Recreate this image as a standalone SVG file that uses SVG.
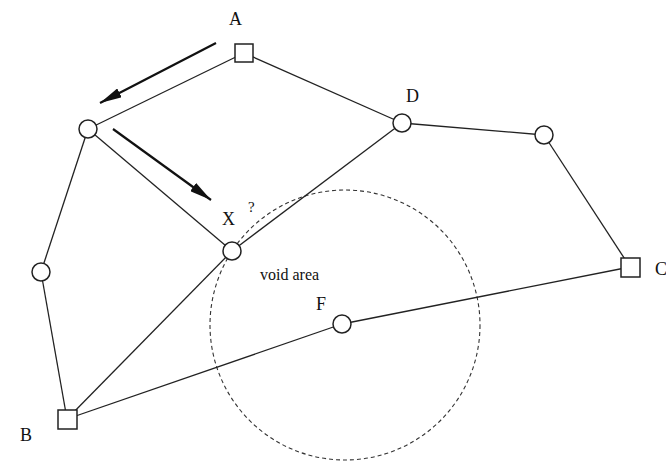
<svg xmlns="http://www.w3.org/2000/svg" width="666" height="461" viewBox="0 0 666 461">
<defs>
<style>
.e{stroke:#222;stroke-width:1.3;fill:none}
.n{fill:#fff;stroke:#222;stroke-width:1.5}
.t{font-family:"Liberation Serif",serif;font-size:18px;fill:#111}
.s{font-family:"Liberation Serif",serif;font-size:16px;fill:#111}
.q{font-family:"Liberation Serif",serif;font-size:15px;fill:#111}
.ar{stroke:#111;stroke-width:2.2;fill:none}
</style>
<marker id="ah2" viewBox="0 0 10 10" refX="10" refY="5" markerWidth="22" markerHeight="10" markerUnits="userSpaceOnUse" orient="auto" preserveAspectRatio="none">
<path d="M0,0 L10,5 L0,10 z" fill="#111"/>
</marker>
</defs>
<rect width="666" height="461" fill="#fff"/>
<g id="void">
<circle cx="345" cy="325" r="135" fill="none" stroke="#333" stroke-width="1.1" stroke-dasharray="4,3"/>
<text class="s" x="260" y="280">void area</text>
</g>
<g id="connectors">
<line class="e" x1="244" y1="53" x2="88" y2="129"/>
<line class="e" x1="244" y1="53" x2="402" y2="123"/>
<line class="e" x1="88" y1="129" x2="232" y2="251"/>
<line class="e" x1="88" y1="129" x2="41" y2="272"/>
<line class="e" x1="41" y1="272" x2="67" y2="419"/>
<line class="e" x1="67" y1="419" x2="232" y2="251"/>
<line class="e" x1="232" y1="251" x2="402" y2="123"/>
<line class="e" x1="402" y1="123" x2="544" y2="135"/>
<line class="e" x1="544" y1="135" x2="630" y2="267"/>
<line class="e" x1="630" y1="267" x2="342" y2="324"/>
<line class="e" x1="342" y1="324" x2="67" y2="419"/>
<line class="ar" x1="216" y1="43" x2="100" y2="103" marker-end="url(#ah2)"/>
<line class="ar" x1="113" y1="129" x2="211" y2="200" marker-end="url(#ah2)"/>
</g>
<g id="A"><rect class="n" x="235" y="44" width="18" height="18"/><text class="t" x="229" y="25">A</text></g>
<g id="N1"><circle class="n" cx="88" cy="129" r="9"/></g>
<g id="D"><circle class="n" cx="402" cy="123" r="9"/><text class="t" x="406" y="102">D</text></g>
<g id="E"><circle class="n" cx="544" cy="135" r="9"/></g>
<g id="C"><rect class="n" x="621" y="258" width="19" height="19"/><text class="t" x="655" y="275">C</text></g>
<g id="L"><circle class="n" cx="41" cy="272" r="9"/></g>
<g id="X"><circle class="n" cx="232" cy="251" r="9"/><text class="t" x="222" y="225">X</text><text class="q" x="248" y="212">?</text></g>
<g id="F"><circle class="n" cx="342" cy="324" r="9"/><text class="t" x="316" y="310">F</text></g>
<g id="B"><rect class="n" x="58" y="410" width="19" height="19"/><text class="t" x="20" y="441">B</text></g>
</svg>
